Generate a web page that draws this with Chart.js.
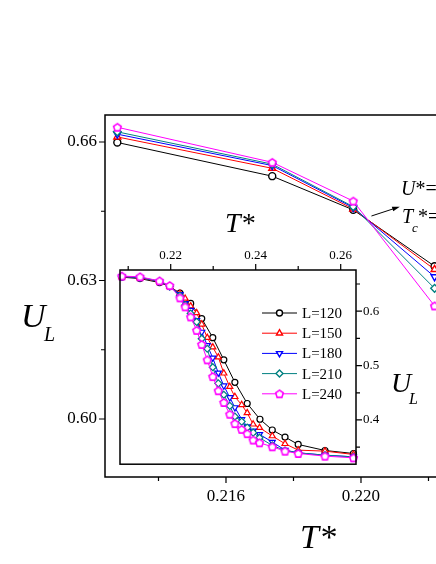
<!DOCTYPE html>
<html>
<head>
<meta charset="utf-8">
<script src="https://cdn.jsdelivr.net/npm/chart.js@4.4.1/dist/chart.umd.min.js"></script>
<style>
  html, body { margin: 0; padding: 0; background: #fff; }
  #wrap { position: relative; width: 436px; height: 564px; overflow: hidden; background: #fff; }
  #main { position: absolute; left: 0; top: 0; }
  #inset { position: absolute; left: 100px; top: 240px; }
</style>
</head>
<body>
<div id="wrap">
  <canvas id="main" width="480" height="564"></canvas>
  <canvas id="inset" width="336" height="233"></canvas>
</div>
<script>
// ---- data ----
const sizes = ['L=120', 'L=150', 'L=180', 'L=210', 'L=240'];

// main plot (zoom near the crossing)
const mainT = [0.21278, 0.21737, 0.21977, 0.22218];
const mainU120 = [0.6599, 0.6526, 0.6453, 0.6331];
const mainU150 = [0.6611, 0.6543, 0.6455, 0.6324];
const mainU180 = [0.6617, 0.6549, 0.6458, 0.6308];
const mainU210 = [0.6622, 0.6552, 0.6460, 0.6283];
const mainU240 = [0.6632, 0.6556, 0.6472, 0.6245];

const mainXTicks = [0.214, 0.216, 0.218, 0.220, 0.222];
const mainXLabels = ['', '0.216', '', '0.220', ''];
const mainYTicks = [0.60, 0.615, 0.63, 0.645, 0.66];
const mainYLabels = ['0.60', '', '0.63', '', '0.66'];

// inset (full range)
const insetT120 = [0.2085, 0.21278, 0.21737, 0.21977, 0.22218, 0.2247, 0.2273, 0.2299, 0.2325,
  0.2351, 0.2380, 0.2410, 0.2439, 0.2469, 0.2500, 0.2563, 0.2630];
const insetU120 = [0.6625, 0.6599, 0.6526, 0.6453, 0.6331, 0.6142, 0.5864, 0.5513, 0.5105,
  0.4692, 0.4303, 0.4013, 0.3816, 0.3686, 0.3550, 0.3439, 0.3384];
const insetT = [0.2085, 0.21278, 0.21737, 0.21977, 0.22218, 0.2234, 0.2247, 0.2261, 0.2273,
  0.2286, 0.2299, 0.2312, 0.2325, 0.2339, 0.2351, 0.2367, 0.2380, 0.2394, 0.2409, 0.2439,
  0.2469, 0.2500, 0.2563, 0.2630];
const insetU150 = [0.6632, 0.6611, 0.6543, 0.6455, 0.6324, 0.6234, 0.6093, 0.5969, 0.5759,
  0.5513, 0.5340, 0.5155, 0.4859, 0.4612, 0.4427, 0.4279, 0.4130, 0.3921, 0.3859, 0.3705,
  0.3563, 0.3446, 0.3427, 0.3366];
const insetU180 = [0.6636, 0.6617, 0.6549, 0.6458, 0.6308, 0.6142, 0.6019, 0.5833, 0.5617,
  0.5371, 0.5142, 0.4865, 0.4630, 0.4414, 0.4229, 0.4013, 0.3878, 0.3800, 0.3736, 0.3594,
  0.3446, 0.3396, 0.3353, 0.3322];
const insetU210 = [0.6640, 0.6622, 0.6552, 0.6460, 0.6283, 0.6111, 0.5957, 0.5803, 0.5494,
  0.5309, 0.4970, 0.4673, 0.4464, 0.4260, 0.4063, 0.3970, 0.3859, 0.3767, 0.3674, 0.3532,
  0.3439, 0.3396, 0.3353, 0.3322];
const insetU240 = [0.6645, 0.6632, 0.6556, 0.6472, 0.6245, 0.6080, 0.5895, 0.5648, 0.5389,
  0.5105, 0.4797, 0.4538, 0.4322, 0.4106, 0.3933, 0.3828, 0.3748, 0.3631, 0.3581, 0.3507,
  0.3427, 0.3384, 0.3335, 0.3304];

const insetXTicks = [0.21, 0.22, 0.23, 0.24, 0.25, 0.26];
const insetXLabels = ['', '0.22', '', '0.24', '', '0.26'];
const insetYTicks = [0.35, 0.40, 0.45, 0.50, 0.55, 0.60, 0.65];
const insetYLabels = ['', '0.4', '', '0.5', '', '0.6', ''];

// arrow pointing from the crossing to the U*, Tc* note (data coords)
const arrowFrom = [0.22031, 0.64397];
const arrowTo = [0.22115, 0.64599];

// ---- styles ----
const SERIF = '"Liberation Serif", "Times New Roman", serif';
const colors = ['#000000', '#ff0000', '#0000ff', '#008080', '#ff00ff'];

function pentagon(color) {
  const c = document.createElement('canvas');
  c.width = 11; c.height = 11;
  const g = c.getContext('2d');
  g.beginPath();
  for (let k = 0; k < 5; k++) {
    const a = -Math.PI / 2 + k * 2 * Math.PI / 5;
    const px = 5.5 + 4 * Math.cos(a), py = 5.9 + 4 * Math.sin(a);
    if (k) g.lineTo(px, py); else g.moveTo(px, py);
  }
  g.closePath();
  g.fillStyle = '#fff'; g.fill();
  g.strokeStyle = color; g.lineWidth = 1.6; g.stroke();
  return c;
}
const pointStyles = ['circle', 'triangle', 'triangle', 'rectRot', pentagon(colors[4])];
const pointRot = [0, 0, 180, 0, 0];
const pointRad = [3.5, 4, 4, 3.8, 4];

function makeSet(i, xs, ys) {
  return {
    label: sizes[i],
    data: xs.map((t, k) => ({ x: t, y: ys[k] })),
    borderColor: colors[i],
    borderWidth: 1,
    pointStyle: pointStyles[i],
    pointRotation: pointRot[i],
    pointRadius: pointRad[i],
    pointBorderWidth: 1.4,
    pointBorderColor: colors[i],
    pointBackgroundColor: '#fff',
    order: 4 - i,
    clip: false
  };
}

function axis(min, max, ticks, labels, pos, size, fontSize, pad) {
  return {
    type: 'linear', position: pos, min: min, max: max,
    afterBuildTicks: a => { a.ticks = ticks.map(v => ({ value: v })); },
    afterFit: s => { if (pos === 'top' || pos === 'bottom') s.height = size; else s.width = size; },
    ticks: {
      autoSkip: false, maxRotation: 0, padding: pad, color: '#000',
      font: { family: SERIF, size: fontSize },
      callback: (v, i) => labels[i]
    },
    grid: { drawOnChartArea: false, tickColor: 'rgba(0,0,0,0)', tickLength: 6 },
    border: { display: false }
  };
}

// frame + outward tick marks, major longer than minor
const frameTicks = {
  id: 'frameTicks',
  afterDraw(chart) {
    const { ctx, chartArea: a, scales } = chart;
    ctx.save();
    ctx.strokeStyle = '#000';
    ctx.lineWidth = 1.5;
    ctx.strokeRect(a.left, a.top, a.right - a.left, a.bottom - a.top);
    ctx.lineWidth = 1.2;
    ctx.beginPath();
    const xs = scales.x, ys = scales.y;
    xs.ticks.forEach(t => {
      const px = xs.getPixelForValue(t.value);
      const len = t.label ? 6 : 4;
      if (xs.position === 'bottom') { ctx.moveTo(px, a.bottom); ctx.lineTo(px, a.bottom + len); }
      else { ctx.moveTo(px, a.top); ctx.lineTo(px, a.top - len); }
    });
    ys.ticks.forEach(t => {
      const py = ys.getPixelForValue(t.value);
      const len = t.label ? 6 : 4;
      if (ys.position === 'left') { ctx.moveTo(a.left, py); ctx.lineTo(a.left - len, py); }
      else { ctx.moveTo(a.right, py); ctx.lineTo(a.right + len, py); }
    });
    ctx.stroke();
    ctx.restore();
  }
};

function put(ctx, font, s, x, y) {
  ctx.font = font;
  ctx.fillText(s, x, y);
  return x + ctx.measureText(s).width;
}

// axis titles and the note on the main canvas
const mainTexts = {
  id: 'mainTexts',
  afterDraw(chart) {
    const { ctx, scales } = chart;
    ctx.save();
    ctx.fillStyle = '#000';
    ctx.textBaseline = 'alphabetic';
    put(ctx, 'italic 34px ' + SERIF, 'T*', 300, 548);
    put(ctx, 'italic 34px ' + SERIF, 'U', 21, 327);
    put(ctx, 'italic 20px ' + SERIF, 'L', 44, 341);
    put(ctx, 'italic 28px ' + SERIF, 'T*', 225, 232);
    put(ctx, 'italic 28px ' + SERIF, 'U', 391, 392);
    put(ctx, 'italic 16px ' + SERIF, 'L', 409, 404);
    let x = put(ctx, 'italic 20px ' + SERIF, 'U', 401, 195);
    put(ctx, '20px ' + SERIF, '*=', x, 195);
    x = put(ctx, 'italic 20px ' + SERIF, 'T', 402, 223);
    put(ctx, 'italic 13px ' + SERIF, 'c', x - 1, 232);
    put(ctx, '20px ' + SERIF, '*=', x + 5, 223);

    // arrow
    const x0 = scales.x.getPixelForValue(arrowFrom[0]), y0 = scales.y.getPixelForValue(arrowFrom[1]);
    const x1 = scales.x.getPixelForValue(arrowTo[0]), y1 = scales.y.getPixelForValue(arrowTo[1]);
    const ang = Math.atan2(y1 - y0, x1 - x0);
    ctx.strokeStyle = '#000';
    ctx.lineWidth = 1;
    ctx.beginPath(); ctx.moveTo(x0, y0); ctx.lineTo(x1 - 4 * Math.cos(ang), y1 - 4 * Math.sin(ang)); ctx.stroke();
    ctx.beginPath();
    ctx.moveTo(x1, y1);
    ctx.lineTo(x1 - 8 * Math.cos(ang - 0.3), y1 - 8 * Math.sin(ang - 0.3));
    ctx.lineTo(x1 - 8 * Math.cos(ang + 0.3), y1 - 8 * Math.sin(ang + 0.3));
    ctx.closePath();
    ctx.fillStyle = '#000';
    ctx.fill();
    ctx.restore();
  }
};

// legend inside the inset: line with marker, then label
const insetLegend = {
  id: 'insetLegend',
  afterDraw(chart) {
    const ctx = chart.ctx;
    ctx.save();
    chart.data.datasets.forEach((ds, i) => {
      const y = 73 + i * 20.2;
      ctx.strokeStyle = ds.borderColor;
      ctx.lineWidth = 1;
      ctx.beginPath(); ctx.moveTo(162, y); ctx.lineTo(197, y); ctx.stroke();
      ctx.strokeStyle = ds.pointBorderColor;
      ctx.fillStyle = '#fff';
      ctx.lineWidth = 1.4;
      Chart.helpers.drawPoint(ctx, {
        pointStyle: ds.pointStyle, radius: ds.pointRadius, rotation: ds.pointRotation, borderWidth: 1.4
      }, 179.5, y);
      ctx.fillStyle = '#000';
      ctx.font = '15px ' + SERIF;
      ctx.textBaseline = 'middle';
      ctx.fillText(ds.label, 202, y + 1);
    });
    ctx.restore();
  }
};

new Chart(document.getElementById('main'), {
  type: 'line',
  data: {
    datasets: [
      makeSet(0, mainT, mainU120),
      makeSet(1, mainT, mainU150),
      makeSet(2, mainT, mainU180),
      makeSet(3, mainT, mainU210),
      makeSet(4, mainT, mainU240)
    ]
  },
  options: {
    responsive: false,
    animation: false,
    layout: { padding: { left: 0, top: 115, right: 10, bottom: 47 } },
    plugins: { legend: { display: false }, tooltip: { enabled: false } },
    scales: {
      x: axis(0.212415, 0.22323, mainXTicks, mainXLabels, 'bottom', 40, 17, 3),
      y: axis(0.58744, 0.66585, mainYTicks, mainYLabels, 'left', 105, 17, 2)
    }
  },
  plugins: [frameTicks, mainTexts]
});

new Chart(document.getElementById('inset'), {
  type: 'line',
  data: {
    datasets: [
      makeSet(0, insetT120, insetU120),
      makeSet(1, insetT, insetU150),
      makeSet(2, insetT, insetU180),
      makeSet(3, insetT, insetU210),
      makeSet(4, insetT, insetU240)
    ].map(d => Object.assign(d, {
      pointRadius: d.pointStyle === 'circle' ? 3 : 3.5,
      pointBorderWidth: 1.2
    }))
  },
  options: {
    responsive: false,
    animation: false,
    layout: { padding: { left: 20, top: 0, right: 0, bottom: 0 } },
    plugins: { legend: { display: false }, tooltip: { enabled: false } },
    scales: {
      x: axis(0.20807, 0.2636, insetXTicks, insetXLabels, 'top', 30, 13, 1),
      y: axis(0.3187, 0.6757, insetYTicks, insetYLabels, 'right', 80, 13, 1)
    }
  },
  plugins: [frameTicks, insetLegend]
});
</script>
</body>
</html>
